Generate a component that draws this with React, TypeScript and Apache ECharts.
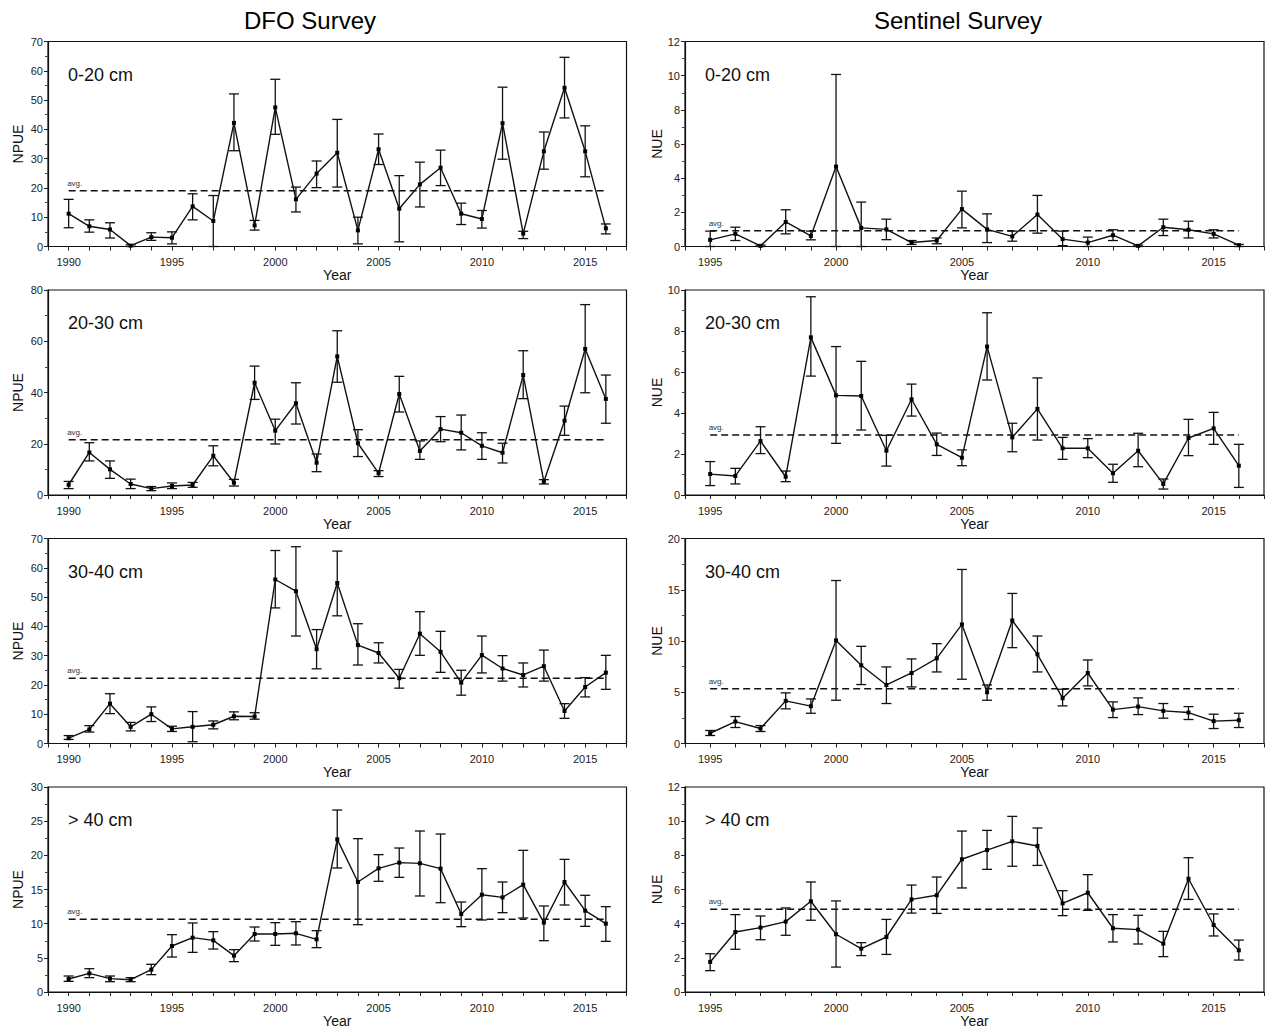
import React, { useEffect, useRef } from "react";
import * as echarts from "echarts";

// ---------- Data ----------
const YEARS_DFO = [1990, 1991, 1992, 1993, 1994, 1995, 1996, 1997, 1998, 1999, 2000, 2001, 2002, 2003, 2004, 2005, 2006, 2007, 2008, 2009, 2010, 2011, 2012, 2013, 2014, 2015, 2016];
const YEARS_SEN = [1995, 1996, 1997, 1998, 1999, 2000, 2001, 2002, 2003, 2004, 2005, 2006, 2007, 2008, 2009, 2010, 2011, 2012, 2013, 2014, 2015, 2016];

// DFO 0-20 cm
const DFO_0_20 = [11.2, 6.9, 5.8, 0.3, 3.2, 3.0, 13.7, 8.7, 42.2, 7.2, 47.5, 16.1, 24.9, 32.0, 5.5, 33.2, 12.9, 21.2, 26.9, 11.2, 9.4, 42.1, 4.4, 32.5, 54.2, 32.5, 6.2];
const DFO_0_20_LO = [6.4, 4.9, 2.9, 0.0, 2.1, 0.9, 9.1, 0.0, 32.7, 5.6, 38.3, 11.8, 20.1, 20.3, 0.9, 28.0, 1.6, 13.5, 20.8, 7.5, 6.3, 29.8, 2.7, 26.4, 43.9, 23.8, 4.3];
const DFO_0_20_HI = [16.1, 9.1, 8.1, 0.6, 4.7, 5.0, 18.0, 17.4, 52.1, 8.9, 57.1, 20.3, 29.2, 43.4, 10.0, 38.4, 24.2, 28.8, 32.9, 14.8, 12.3, 54.4, 5.2, 39.1, 64.6, 41.2, 7.7];
const DFO_0_20_AVG = 19.0;

// DFO 20-30 cm
const DFO_20_30 = [4.0, 16.6, 10.0, 4.3, 2.5, 3.5, 3.9, 15.3, 4.8, 43.8, 25.1, 35.8, 12.6, 54.1, 20.2, 8.5, 39.4, 17.2, 25.7, 24.3, 19.2, 16.5, 46.8, 5.2, 29.0, 57.0, 37.5];
const DFO_20_30_LO = [2.5, 13.3, 6.5, 2.5, 1.7, 2.5, 3.0, 11.4, 3.5, 37.3, 19.9, 27.7, 9.1, 44.0, 15.0, 7.2, 32.4, 13.9, 20.8, 17.6, 13.9, 12.5, 37.6, 4.3, 23.3, 39.9, 28.0];
const DFO_20_30_HI = [5.3, 20.4, 13.3, 6.2, 3.3, 4.7, 4.9, 19.2, 6.1, 50.3, 29.6, 43.8, 16.0, 64.1, 25.5, 9.5, 46.3, 21.1, 30.6, 31.2, 24.3, 20.2, 56.3, 6.0, 34.7, 74.3, 46.8];
const DFO_20_30_AVG = 21.6;

// DFO 30-40 cm
const DFO_30_40 = [1.8, 4.8, 13.6, 5.7, 10.0, 5.0, 5.7, 6.4, 9.3, 9.2, 56.0, 52.0, 32.2, 54.8, 33.6, 30.9, 22.3, 37.5, 31.3, 20.8, 30.2, 25.6, 23.4, 26.4, 11.1, 19.3, 24.2];
const DFO_30_40_LO = [1.4, 3.9, 10.2, 4.3, 7.5, 4.1, 0.6, 5.0, 8.1, 8.3, 46.3, 36.7, 25.5, 43.6, 26.8, 27.5, 18.9, 30.1, 24.3, 16.5, 24.1, 21.3, 19.3, 21.3, 8.6, 15.9, 18.5];
const DFO_30_40_HI = [2.7, 6.1, 17.0, 7.2, 12.5, 5.9, 10.9, 7.7, 10.8, 10.5, 65.9, 67.2, 38.9, 65.7, 40.9, 34.4, 25.3, 45.0, 38.3, 25.0, 36.7, 30.0, 27.5, 31.9, 13.6, 22.5, 30.1];
const DFO_30_40_AVG = 22.3;

// DFO > 40 cm
const DFO_40 = [1.9, 2.73, 1.95, 1.8, 3.27, 6.73, 7.95, 7.56, 5.32, 8.49, 8.49, 8.59, 7.71, 22.34, 16.1, 18.1, 18.93, 18.83, 18.05, 11.41, 14.24, 13.85, 15.71, 10.15, 16.1, 11.9, 10.0];
const DFO_40_LO = [1.56, 2.1, 1.51, 1.51, 2.54, 5.12, 5.8, 6.29, 4.44, 7.46, 6.83, 6.88, 6.49, 18.15, 9.85, 16.2, 16.78, 14.05, 13.07, 9.56, 10.54, 11.61, 10.83, 7.51, 12.73, 9.61, 7.41];
const DFO_40_HI = [2.34, 3.41, 2.34, 2.1, 4.05, 8.39, 10.1, 8.83, 6.2, 9.51, 10.15, 10.29, 8.98, 26.63, 22.44, 20.1, 21.07, 23.56, 23.12, 13.17, 18.05, 16.1, 20.73, 12.59, 19.41, 14.15, 12.49];
const DFO_40_AVG = 10.63;

// Sentinel 0-20 cm
const SEN_0_20 = [0.39, 0.74, 0.04, 1.44, 0.62, 4.68, 1.09, 1.0, 0.23, 0.35, 2.19, 1.0, 0.59, 1.87, 0.43, 0.23, 0.66, 0.04, 1.13, 0.98, 0.74, 0.08];
const SEN_0_20_LO = [0.0, 0.35, 0.0, 0.74, 0.39, 0.0, 0.0, 0.4, 0.12, 0.16, 1.09, 0.23, 0.31, 0.78, 0.05, 0.0, 0.35, 0.0, 0.64, 0.5, 0.5, 0.0];
const SEN_0_20_HI = [0.9, 1.13, 0.08, 2.15, 0.9, 10.07, 2.6, 1.6, 0.35, 0.5, 3.24, 1.91, 0.9, 2.99, 0.9, 0.55, 0.98, 0.08, 1.6, 1.48, 0.98, 0.12];
const SEN_0_20_AVG = 0.92;

// Sentinel 20-30 cm
const SEN_20_30 = [1.02, 0.93, 2.63, 0.89, 7.69, 4.86, 4.83, 2.16, 4.67, 2.47, 1.82, 7.24, 2.81, 4.2, 2.28, 2.28, 1.06, 2.16, 0.54, 2.78, 3.25, 1.43];
const SEN_20_30_LO = [0.46, 0.54, 2.02, 0.65, 5.8, 2.52, 3.17, 1.41, 3.85, 1.93, 1.43, 5.61, 2.11, 2.68, 1.74, 1.82, 0.62, 1.38, 0.29, 1.92, 2.47, 0.37];
const SEN_20_30_HI = [1.63, 1.3, 3.33, 1.17, 9.67, 7.24, 6.52, 2.91, 5.41, 3.02, 2.2, 8.89, 3.5, 5.71, 2.81, 2.75, 1.5, 3.01, 0.78, 3.69, 4.03, 2.47];
const SEN_20_30_AVG = 2.93;

// Sentinel 30-40 cm
const SEN_30_40 = [1.0, 2.14, 1.46, 4.16, 3.64, 10.06, 7.63, 5.71, 6.88, 8.31, 11.62, 5.0, 12.0, 8.7, 4.42, 6.88, 3.31, 3.6, 3.18, 3.02, 2.18, 2.27];
const SEN_30_40_LO = [0.78, 1.56, 1.17, 3.38, 2.95, 4.22, 5.75, 3.9, 5.52, 6.98, 6.27, 4.22, 9.35, 6.98, 3.67, 5.62, 2.53, 2.82, 2.47, 2.34, 1.46, 1.56];
const SEN_30_40_HI = [1.27, 2.63, 1.75, 4.94, 4.35, 15.9, 9.48, 7.47, 8.25, 9.74, 16.98, 5.71, 14.64, 10.49, 5.29, 8.15, 4.06, 4.45, 3.9, 3.6, 2.86, 2.95];
const SEN_30_40_AVG = 5.33;

// Sentinel > 40 cm
const SEN_40 = [1.76, 3.51, 3.77, 4.12, 5.31, 3.38, 2.54, 3.22, 5.42, 5.66, 7.77, 8.31, 8.82, 8.55, 5.19, 5.81, 3.73, 3.65, 2.83, 6.63, 3.92, 2.44];
const SEN_40_LO = [1.25, 2.5, 3.06, 3.32, 4.2, 1.46, 2.13, 2.2, 4.62, 4.6, 6.09, 7.18, 7.36, 7.41, 4.47, 4.78, 2.93, 2.81, 2.07, 5.42, 3.28, 1.87];
const SEN_40_HI = [2.24, 4.53, 4.45, 4.92, 6.44, 5.33, 2.89, 4.25, 6.26, 6.73, 9.42, 9.46, 10.28, 9.6, 5.93, 6.87, 4.53, 4.49, 3.55, 7.86, 4.57, 3.04];
const SEN_40_AVG = 4.84;

const SIZE_CLASSES = ["0-20 cm", "20-30 cm", "30-40 cm", "> 40 cm"];
const COLUMN_TITLES = ["DFO Survey", "Sentinel Survey"];
const Y_NAMES = ["NPUE", "NUE"];
const X_NAME = "Year";

// y-axis settings [max, interval] per panel
const DFO_Y_MAX = [70, 80, 70, 30];
const DFO_Y_INT = [10, 20, 10, 5];
const SEN_Y_MAX = [12, 10, 20, 12];
const SEN_Y_INT = [2, 2, 5, 2];

const FONT = "'Liberation Sans', Arial, sans-serif";

type Panel = {
  years: number[];
  v: number[];
  lo: number[];
  hi: number[];
  avg: number;
  yMax: number;
  yInt: number;
  col: number;
  row: number;
};

const PANELS: Panel[] = [
  { years: YEARS_DFO, v: DFO_0_20, lo: DFO_0_20_LO, hi: DFO_0_20_HI, avg: DFO_0_20_AVG, yMax: DFO_Y_MAX[0], yInt: DFO_Y_INT[0], col: 0, row: 0 },
  { years: YEARS_SEN, v: SEN_0_20, lo: SEN_0_20_LO, hi: SEN_0_20_HI, avg: SEN_0_20_AVG, yMax: SEN_Y_MAX[0], yInt: SEN_Y_INT[0], col: 1, row: 0 },
  { years: YEARS_DFO, v: DFO_20_30, lo: DFO_20_30_LO, hi: DFO_20_30_HI, avg: DFO_20_30_AVG, yMax: DFO_Y_MAX[1], yInt: DFO_Y_INT[1], col: 0, row: 1 },
  { years: YEARS_SEN, v: SEN_20_30, lo: SEN_20_30_LO, hi: SEN_20_30_HI, avg: SEN_20_30_AVG, yMax: SEN_Y_MAX[1], yInt: SEN_Y_INT[1], col: 1, row: 1 },
  { years: YEARS_DFO, v: DFO_30_40, lo: DFO_30_40_LO, hi: DFO_30_40_HI, avg: DFO_30_40_AVG, yMax: DFO_Y_MAX[2], yInt: DFO_Y_INT[2], col: 0, row: 2 },
  { years: YEARS_SEN, v: SEN_30_40, lo: SEN_30_40_LO, hi: SEN_30_40_HI, avg: SEN_30_40_AVG, yMax: SEN_Y_MAX[2], yInt: SEN_Y_INT[2], col: 1, row: 2 },
  { years: YEARS_DFO, v: DFO_40, lo: DFO_40_LO, hi: DFO_40_HI, avg: DFO_40_AVG, yMax: DFO_Y_MAX[3], yInt: DFO_Y_INT[3], col: 0, row: 3 },
  { years: YEARS_SEN, v: SEN_40, lo: SEN_40_LO, hi: SEN_40_HI, avg: SEN_40_AVG, yMax: SEN_Y_MAX[3], yInt: SEN_Y_INT[3], col: 1, row: 3 },
];

// layout
const COL_LEFT = [48, 685];
const COL_WIDTH = [578.5, 579];
const ROW_TOP = [41.5, 290, 538.5, 787];
const ROW_HEIGHT = 205;
const X_MIN = [1989, 1994];
const X_MAX = [2017, 2017];

function buildOption() {
  const grid: any[] = [];
  const xAxis: any[] = [];
  const yAxis: any[] = [];
  const series: any[] = [];
  const graphic: any[] = [];

  PANELS.forEach((p, i) => {
    grid.push({
      left: COL_LEFT[p.col],
      top: ROW_TOP[p.row],
      width: COL_WIDTH[p.col],
      height: ROW_HEIGHT,
      show: true,
      borderColor: "#111",
      borderWidth: 1.2,
      backgroundColor: "transparent",
    });
    xAxis.push({
      type: "value",
      gridIndex: i,
      min: X_MIN[p.col],
      max: X_MAX[p.col],
      interval: 1,
      name: X_NAME,
      nameLocation: "middle",
      nameGap: 21,
      nameTextStyle: { fontFamily: FONT, fontSize: 14, color: "#111" },
      axisLine: { show: true, onZero: false, lineStyle: { color: "#111", width: 1.2 } },
      axisTick: { show: true, inside: false, length: 4, lineStyle: { color: "#222", width: 1 } },
      axisLabel: {
        show: true,
        margin: 10,
        fontFamily: FONT,
        fontSize: 11,
        color: "#222",
        showMinLabel: true,
        showMaxLabel: true,
        formatter: (v: number) => (Math.round(v) % 5 === 0 && Math.abs(v - Math.round(v)) < 1e-6 ? String(Math.round(v)) : ""),
      },
      splitLine: { show: false },
    });
    yAxis.push({
      type: "value",
      gridIndex: i,
      min: 0,
      max: p.yMax,
      interval: p.yInt,
      name: Y_NAMES[p.col],
      nameLocation: "middle",
      nameGap: p.col === 0 ? 23 : 21,
      nameTextStyle: { fontFamily: FONT, fontSize: 14, color: "#111" },
      axisLine: { show: true, lineStyle: { color: "#111", width: 1.2 } },
      axisTick: { show: true, inside: false, length: 4, lineStyle: { color: "#222", width: 1 } },
      minorTick: { show: true, splitNumber: 2, length: 3, lineStyle: { color: "#444", width: 1 } },
      axisLabel: { margin: 5, fontFamily: FONT, fontSize: 11, color: "#222" },
      splitLine: { show: false },
    });

    const first = p.years[0];
    const last = p.years[p.years.length - 1];

    // average dashed line
    series.push({
      type: "line",
      xAxisIndex: i,
      yAxisIndex: i,
      symbol: "circle",
      symbolSize: 1,
      itemStyle: { color: "rgba(0,0,0,0)" },
      lineStyle: { color: "#111", width: 1.5, type: [7, 4] },
      silent: true,
      z: 2,
      data: [
        {
          value: [first, p.avg],
          label: {
            show: true,
            formatter: "avg.",
            position: [-1, -11],
            fontFamily: FONT,
            fontSize: 8,
            color: "#333",
          },
        },
        { value: [last, p.avg] },
      ],
    });

    // error bars
    series.push({
      type: "custom",
      xAxisIndex: i,
      yAxisIndex: i,
      z: 3,
      encode: { x: 0, y: [1, 2] },
      data: p.years.map((y, k) => [y, p.lo[k], p.hi[k]]),
      renderItem: (params: any, api: any) => {
        const x = api.value(0);
        const lo = api.coord([x, api.value(1)]);
        const hi = api.coord([x, api.value(2)]);
        const hw = 5;
        const st = { stroke: "#111", lineWidth: 1.3 };
        return {
          type: "group",
          children: [
            { type: "line", shape: { x1: lo[0], y1: lo[1], x2: hi[0], y2: hi[1] }, style: st },
            { type: "line", shape: { x1: hi[0] - hw, y1: hi[1], x2: hi[0] + hw, y2: hi[1] }, style: st },
            { type: "line", shape: { x1: lo[0] - hw, y1: lo[1], x2: lo[0] + hw, y2: lo[1] }, style: st },
          ],
        };
      },
    });

    // main series
    series.push({
      type: "line",
      xAxisIndex: i,
      yAxisIndex: i,
      symbol: "rect",
      symbolSize: 4,
      itemStyle: { color: "#000" },
      lineStyle: { color: "#111", width: 1.4 },
      z: 4,
      data: p.years.map((y, k) => [y, p.v[k]]),
    });

    // panel label
    graphic.push({
      type: "text",
      left: COL_LEFT[p.col] + 20,
      top: ROW_TOP[p.row] + 24,
      style: { text: SIZE_CLASSES[p.row], font: `18px ${FONT}`, fill: "#111" },
    });
  });

  const title = [
    { text: COLUMN_TITLES[0], left: 305, top: 3, textAlign: "center", textStyle: { fontFamily: FONT, fontSize: 24, fontWeight: "normal", color: "#000" } },
    { text: COLUMN_TITLES[1], left: 953, top: 3, textAlign: "center", textStyle: { fontFamily: FONT, fontSize: 24, fontWeight: "normal", color: "#000" } },
  ];

  return {
    animation: false,
    backgroundColor: "#fff",
    title,
    grid,
    xAxis,
    yAxis,
    series,
    graphic,
  };
}

export default function App() {
  const ref = useRef<HTMLDivElement>(null);
  useEffect(() => {
    if (!ref.current) return;
    const chart = echarts.init(ref.current, undefined, { renderer: "svg" });
    chart.setOption(buildOption() as any);
    return () => chart.dispose();
  }, []);
  return (
    <div
      ref={ref}
      style={{ position: "absolute", left: 0, top: 0, width: 1270, height: 1030, background: "#fff" }}
    />
  );
}
